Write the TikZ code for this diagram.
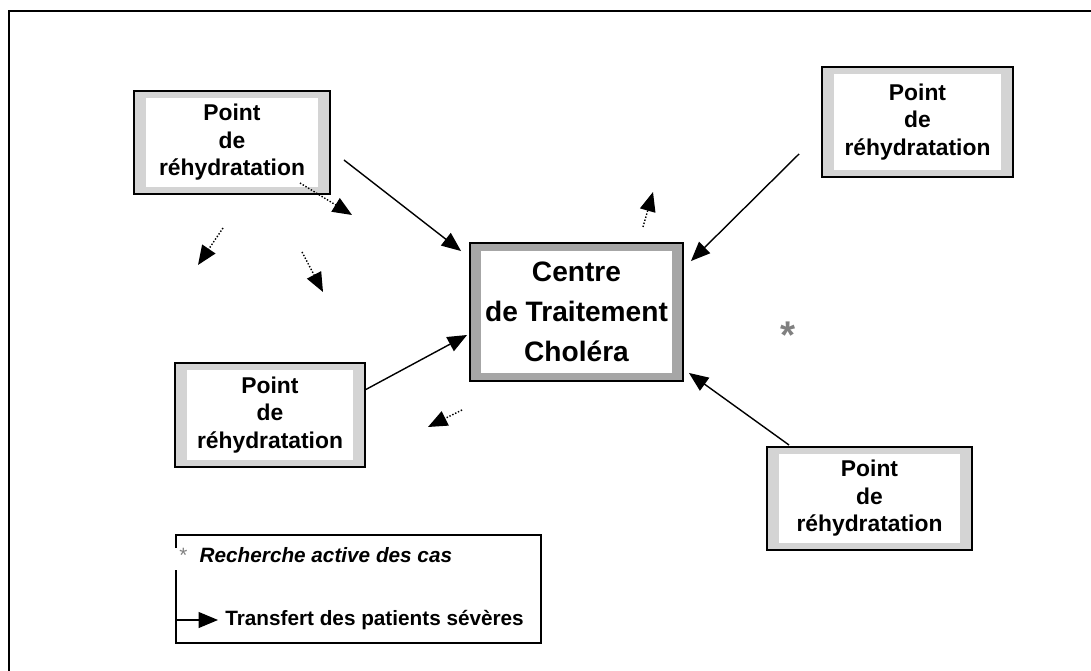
\documentclass[tikz,border=0pt]{standalone}
\usepackage{fontspec}
\setmainfont{Liberation Sans}
\usetikzlibrary{arrows.meta,calc}
\definecolor{framegray}{HTML}{D4D4D4}
\definecolor{ctcgray}{HTML}{A6A6A6}
\definecolor{stargray}{HTML}{808080}

\begin{document}
\begin{tikzpicture}[x=0.02cm,y=-0.02cm,
  gbox/.style 2 args={rectangle,draw,line width=1.1pt,inner sep=0pt,align=center,
    path picture={
      \fill[#1] (path picture bounding box.south west) rectangle (path picture bounding box.north east);
      \fill[white] ($(path picture bounding box.south west)+(#2)$) rectangle ($(path picture bounding box.north east)-(#2)$);}},
  ptbox/.style={gbox={framegray}{0.24cm,0.14cm},font=\fontsize{13}{15.6}\selectfont\bfseries},
  ctcbox/.style={gbox={ctcgray}{0.22cm,0.16cm},font=\fontsize{16}{22.7}\selectfont\bfseries},
  legtext/.style={inner sep=0pt,font=\fontsize{11.8}{13}\selectfont\bfseries},
  trans/.style={-{Triangle[length=11pt,width=9pt]},line width=0.8pt},
  case/.style={-{Triangle[length=11pt,width=9pt]},densely dotted,line width=0.8pt}]

\useasboundingbox (0,0) rectangle (1091,671);
\draw[line width=1.1pt] (9,671) -- (9,11) -- (1091,11);

% centre et points de rehydratation
\node[ctcbox,minimum width=4.26cm,minimum height=2.76cm] (ctc) at (576.5,312)
  {Centre\\de Traitement\\Choléra};
\node[ptbox,minimum width=3.92cm,minimum height=2.06cm] (tl) at (232,142.5)
  {Point\\de\\réhydratation};
\node[ptbox,minimum width=3.82cm,minimum height=2.2cm] (tr) at (917.5,122)
  {Point\\de\\réhydratation};
\node[ptbox,minimum width=3.8cm,minimum height=2.08cm] (lm) at (270,415)
  {Point\\de\\réhydratation};
\node[ptbox,minimum width=4.1cm,minimum height=2.06cm] (br) at (869.5,498.5)
  {Point\\de\\réhydratation};

\draw[trans] ($(tl.east)+(13,17.5)$) -- ($(ctc.north west)+(-8,9)$);
\draw[trans] ($(tr.south west)+(-22,-24)$) -- ($(ctc.north east)+(7,19)$);
\draw[trans] ($(lm.east)+(-1,-25)$) -- ($(ctc.west)+(-2,23)$);
\draw[trans] ($(br.north west)+(23,-1)$) -- ($(ctc.south east)+(5,-9)$);

% recherche active
\coordinate (d1a) at (300,183); \coordinate (d1b) at (352,215);
\coordinate (d2a) at (223,228); \coordinate (d2b) at (198,265);
\coordinate (d3a) at (302,252); \coordinate (d3b) at (323,292);
\coordinate (d4a) at (643,227); \coordinate (d4b) at (653,192);
\coordinate (d5a) at (462,410); \coordinate (d5b) at (428,427);
\foreach \n in {1,...,5}
  \draw[case] (d\n a) -- (d\n b);

\node[font=\fontsize{22}{22}\selectfont\bfseries,text=stargray] (star) at (788,335) {*};

% legende
\draw[line width=0.7pt] (176,548) -- (176,535) -- (541,535) -- (541,643) -- (176,643) -- (176,570);
\node[legtext,anchor=base west] (rech) at (179,562)
  {{\mdseries\color{stargray}*}\hspace{7pt}\textit{Recherche active des cas}};
\node[legtext,anchor=west] (trf) at (225,620) {Transfert des patients sévères};
\coordinate (lgin) at (176,620);
\draw[trans] (lgin) -- ($(trf.west)+(-7,0)$);
\end{tikzpicture}
\end{document}
